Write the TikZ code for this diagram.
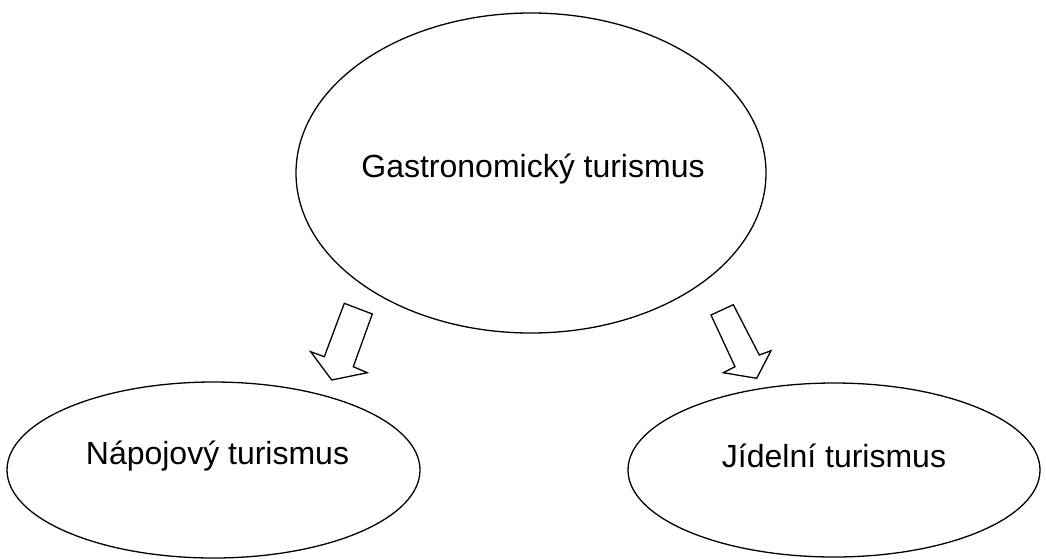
\documentclass[tikz,border=0pt]{standalone}
\usepackage{fontspec}
\setmainfont{Liberation Sans}
\usetikzlibrary{shapes.geometric}
\begin{document}
\begin{tikzpicture}[x=1pt,y=-1pt,
  oval/.style={draw=black, line width=1.3pt, ellipse, inner sep=0pt},
  ovaltext/.style={font=\fontsize{32}{38}\selectfont, inner sep=0pt},
  blockarrow/.style={draw=black, line width=1.3pt, line join=miter, fill=white}]
\useasboundingbox (0,0) rectangle (1046,558);
\clip (0,0) rectangle (1046,558);
\node[oval, minimum width=470pt, minimum height=320pt,
  label={[ovaltext, yshift=4pt, xshift=2pt]center:Gastronomický turismus}] (gt) at (531,173) {};
\node[oval, minimum width=413pt, minimum height=176pt,
  label={[ovaltext, yshift=14pt, xshift=4pt]center:Nápojový turismus}] (np) at (213.5,470) {};
\node[oval, minimum width=412pt, minimum height=174pt,
  label={[ovaltext, yshift=14pt]center:Jídelní turismus}] (jt) at (834,470) {};
\draw[blockarrow] (344.3,303.3) -- (372.3,314) -- (353.3,366.7) -- (367.3,372.7) -- (331.7,380) -- (310.7,351.7) -- (324.3,356.7) -- cycle;
\draw[blockarrow] (711,315) -- (733.3,304.7) -- (759.3,355) -- (771,350.7) -- (756.7,378.3) -- (723.3,372.7) -- (735,366.7) -- cycle;
\end{tikzpicture}
\end{document}
